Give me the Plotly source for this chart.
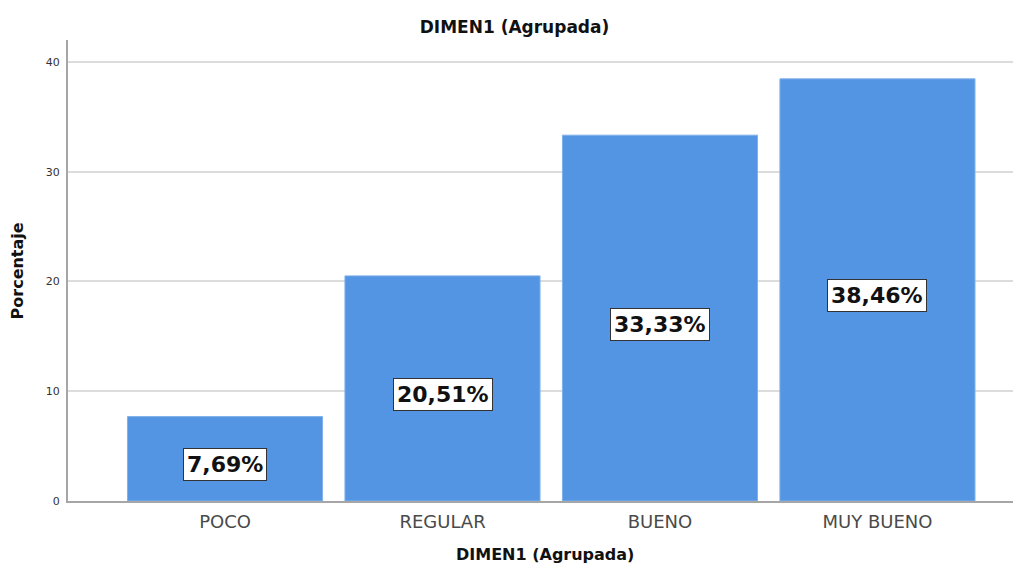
import plotly.graph_objects as go

categories = ["POCO", "REGULAR", "BUENO", "MUY BUENO"]
percentages = [7.69, 20.51, 33.33, 38.46]
y_ticks = [0, 10, 20, 30, 40]

BAR_COLOR = "#5394e3"
FONT = "DejaVu Sans, Arial, sans-serif"
TITLE_FONT = dict(family=FONT, size=16, color="#111111")

fig = go.Figure(go.Bar(
    x=list(range(len(categories))),
    y=percentages,
    width=0.897,
    marker=dict(color=BAR_COLOR, line=dict(color="#7fb0ea", width=1)),
    hoverinfo="skip",
))

# boxed percentage labels in the middle of each bar
for i, v in enumerate(percentages):
    fig.add_annotation(
        x=i, y=v / 2, yshift=-6,
        text=f"<b>{v:.2f}%</b>".replace(".", ","),
        showarrow=False,
        font=dict(family=FONT, size=22, color="#111111"),
        bgcolor="white",
        bordercolor="#333333",
        borderwidth=1,
        borderpad=3,
    )

# axis titles placed by hand so the margins stay fixed
fig.add_annotation(x=0.5, y=-0.117, xref="paper", yref="paper",
                   text="<b>DIMEN1 (Agrupada)</b>", showarrow=False,
                   font=TITLE_FONT, yanchor="middle")
fig.add_annotation(x=-0.0525, y=0.50, xref="paper", yref="paper",
                   text="<b>Porcentaje</b>", showarrow=False, textangle=-90,
                   font=TITLE_FONT, xanchor="center")

fig.update_layout(
    title=dict(text="<b>DIMEN1 (Agrupada)</b>", x=0.5, xanchor="center",
               y=0.966, yanchor="middle",
               font=dict(family=FONT, size=17, color="#111111")),
    width=1013, height=561,
    margin=dict(l=60, r=0, t=32, b=68),
    paper_bgcolor="white",
    plot_bgcolor="white",
    showlegend=False,
    xaxis=dict(
        range=[-0.722, 3.66],
        tickvals=list(range(len(categories))),
        ticktext=categories,
        tickfont=dict(family=FONT, size=18, color="#4a4a4a"),
        showgrid=False, zeroline=False,
        showline=True, linecolor="#a6a6a6", linewidth=2,
        ticks="", ticklabelstandoff=3,
        automargin=False,
    ),
    yaxis=dict(
        range=[0, 42],
        tickvals=y_ticks,
        tickfont=dict(family=FONT, size=11, color="#333333"),
        showgrid=True, gridcolor="#dcdcdc", gridwidth=2,
        zeroline=False,
        showline=True, linecolor="#a6a6a6", linewidth=2,
        ticks="", ticklabelstandoff=4,
        automargin=False,
    ),
)

fig.write_html("out.html")
